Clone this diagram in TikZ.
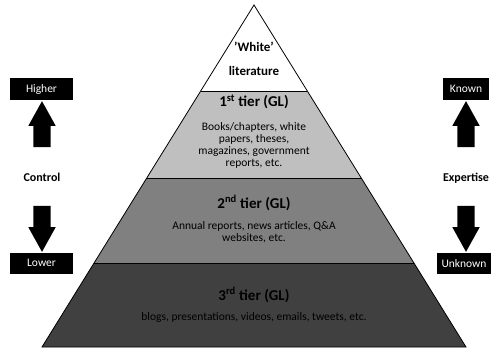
\documentclass[tikz,border=0pt]{standalone}
\usepackage{fontspec}
\setmainfont{Carlito}
\usepackage{xcolor}
\usetikzlibrary{shapes.arrows}
\definecolor{white lit}{RGB}{255,255,255}
\definecolor{first tier}{RGB}{191,191,191}
\definecolor{second tier}{RGB}{128,128,128}
\definecolor{third tier}{RGB}{64,64,64}
\tikzstyle{tier}=[draw=black, line width=0.8pt, line join=miter]
\tikzstyle{head}=[font=\fontsize{15}{17}\selectfont\bfseries, inner sep=0pt]
\tikzstyle{toplabel}=[font=\fontsize{13}{15}\selectfont\bfseries, inner sep=0pt]
\tikzstyle{body}=[font=\fontsize{11.5}{12}\selectfont, align=center, inner sep=0pt]
\tikzstyle{tag}=[fill=black, text=white, font=\fontsize{11.5}{13}\selectfont, inner sep=0pt]
\tikzstyle{axis}=[font=\fontsize{12}{14}\selectfont\bfseries, inner sep=0pt]
\tikzstyle{blockarrow}=[single arrow, fill=black, minimum height=46pt, inner xsep=0pt,
  inner ysep=8.5pt, single arrow head extend=5pt, single arrow tip angle=58]

\begin{document}
\begin{tikzpicture}[x=1pt,y=-1pt]
  \useasboundingbox (0,0) rectangle (494,348);

  %% Pyramid
  \fill[third tier] (94,263) -- (414,263) -- (466,347) -- (42,347) -- cycle;
  \fill[second tier] (146.7,178) -- (361.3,178) -- (414,263) -- (94,263) -- cycle;
  \fill[first tier] (200.7,91) -- (307.3,91) -- (361.3,178) -- (146.7,178) -- cycle;
  \draw[tier] (254,5) -- (466,347) -- (42,347) -- cycle;
  \draw[tier] (200.7,91) -- (307.3,91);
  \draw[tier] (146.7,178) -- (361.3,178);
  \draw[tier] (94,263) -- (414,263);

  \draw (254,47) node[toplabel] (White) {'White'};
  \draw (254,71) node[toplabel] (Lit) {literature};

  \draw (254,102) node[head] (T1) {1\textsuperscript{st} tier (GL)};
  \draw (254,145) node[body] (T1text) {Books/chapters, white\\papers, theses,\\magazines, government\\reports, etc.};

  \draw (254,203) node[head] (T2) {2\textsuperscript{nd} tier (GL)};
  \draw (254,232) node[body] (T2text) {Annual reports, news articles, Q\&A\\websites, etc.};

  \draw (254,295) node[head] (T3) {3\textsuperscript{rd} tier (GL)};
  \draw (254,317) node[body] (T3text) {blogs, presentations, videos, emails, tweets, etc.};

  %% Legend things
  \draw (41.5,89) node[tag, minimum width=63pt, minimum height=22pt] (Higher) {Higher};
  \draw (42,132) node[blockarrow, rotate=90] (ArrUpL) {};
  \draw (42,177) node[axis] (Control) {Control};
  \draw (42,221) node[blockarrow, rotate=-90] (ArrDownL) {};
  \draw (41.5,263) node[tag, minimum width=63pt, minimum height=21pt] (Lower) {Lower};

  \draw (466,89) node[tag, minimum width=46pt, minimum height=22pt] (Known) {Known};
  \draw (466,132) node[blockarrow, rotate=90] (ArrUpR) {};
  \draw (466,178) node[axis] (Expertise) {Expertise};
  \draw (466,221) node[blockarrow, rotate=-90] (ArrDownR) {};
  \draw (464,263.5) node[tag, minimum width=54pt, minimum height=21pt] (Unknown) {Unknown};
\end{tikzpicture}
\end{document}
